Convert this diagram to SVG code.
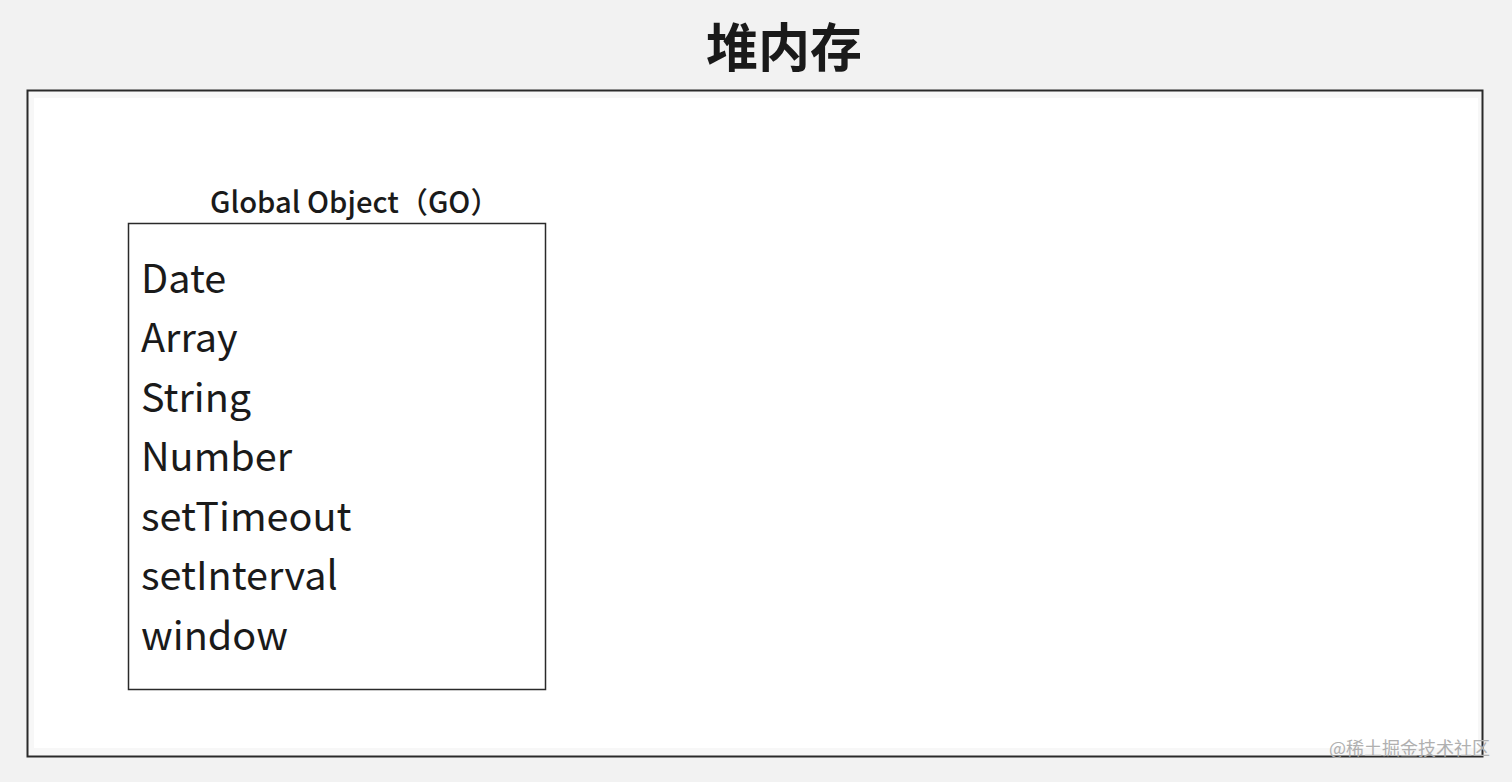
<svg xmlns="http://www.w3.org/2000/svg" width="1512" height="782" viewBox="0 0 1512 782">
<style>
.t{font-family:"Noto Sans CJK SC","Noto Sans",sans-serif;fill:#1a1a1a}
.item{font-size:39.6px}
</style>
<rect width="1512" height="782" fill="#f2f2f2"/>
<g id="heap">
<rect x="27.5" y="90.5" width="1455" height="666" fill="#f7f7f7" stroke="#2a2a2a" stroke-width="2"/>
<rect x="34" y="98" width="1444" height="650" fill="#ffffff"/>
<text class="t" x="706" y="67" font-size="52" font-weight="bold">堆内存</text>
</g>
<g id="go">
<text class="t" x="210" y="213" font-size="29.2" font-weight="500">Global Object（GO）</text>
<rect x="128.5" y="223.5" width="417" height="466" fill="#ffffff" stroke="#2a2a2a" stroke-width="1.5"/>
<text class="t item" x="141" y="293">Date</text>
<text class="t item" x="141" y="352">Array</text>
<text class="t item" x="141" y="412">String</text>
<text class="t item" x="141" y="471">Number</text>
<text class="t item" x="141" y="531">setTimeout</text>
<text class="t item" x="141" y="590">setInterval</text>
<text class="t item" x="141" y="650">window</text>
</g>
<g id="connectors"/>
<text class="t" x="1490" y="755" font-size="18" text-anchor="end" style="fill:#b0b0b0">@稀土掘金技术社区</text>
</svg>
